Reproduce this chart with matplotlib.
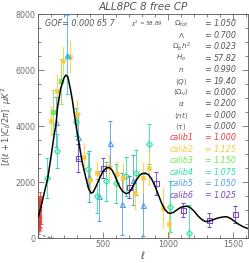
import matplotlib
matplotlib.use("Agg")
import matplotlib.pyplot as plt
from matplotlib.ticker import MultipleLocator

# ---- model curve ----
curve_l = [2, 25, 50, 75, 100, 125, 138, 150, 175, 200, 215, 230, 250, 265, 279, 292, 318, 340,
           369, 390, 408, 425, 450, 475, 500, 525, 548, 570, 590, 610, 630, 650, 677, 700, 725,
           754, 780, 800, 825, 850, 875, 900, 925, 950, 975, 1000, 1015, 1040, 1070, 1100, 1143,
           1170, 1200, 1230, 1260, 1285, 1310, 1340, 1380, 1420, 1451, 1480, 1510, 1540, 1570,
           1600, 1620]
curve_v = [760, 1150, 1650, 2140, 2900, 3710, 4030, 4650, 5350, 5720, 5820, 5750, 5300, 4900, 4430,
           4030, 3320, 2700, 2130, 1750, 1600, 1640, 1880, 2150, 2380, 2500, 2520, 2420, 2240,
           2010, 1810, 1670, 1580, 1620, 1800, 2050, 2230, 2300, 2320, 2260, 2100, 1850, 1550,
           1250, 1020, 900, 880, 910, 1010, 1100, 1140, 1090, 960, 790, 660, 590, 595, 640, 710,
           750, 760, 700, 600, 500, 420, 360, 330]

# dashed low-l component
dash_l = [2, 30, 60, 90, 120]
dash_v = [150, 100, 50, 20, 0]

# ---- data sets ----
calib1_l = [2, 3, 4, 5, 6, 7, 8, 9, 10, 11, 12, 13, 14, 15, 16, 18, 20]
calib1_v = [800, 1050, 650, 900, 700, 1000, 850, 750, 950, 1100, 700, 900, 1000, 800, 1200, 900, 1000]
calib1_e = [600, 450, 400, 350, 350, 350, 350, 350, 350, 350, 400, 400, 400, 450, 450, 500, 500]

calib2_l = [97, 144, 195, 249, 297, 351, 400, 451, 543, 605, 656, 748, 805, 856, 959, 1010]
calib2_v = [4180, 5260, 6330, 6480, 4430, 2900, 2070, 2310, 2520, 2270, 2150, 1600, 2140, 2510, 1060, 500]
calib2_e = [500, 550, 500, 550, 450, 450, 400, 400, 450, 450, 500, 550, 550, 600, 700, 700]

calib3_l = [113, 180]
calib3_v = [4500, 5600]
calib3_e = [800, 800]

calib4_l = [67, 144, 292, 382, 451, 523, 600, 677, 754, 856, 1015, 1164]
calib4_v = [2140, 3110, 4140, 2450, 1510, 2030, 1950, 2210, 2330, 3360, 1120, 170]
calib4_e = [700, 600, 500, 600, 600, 700, 700, 700, 800, 700, 900, 1000]

calib5_l = [138, 305, 390, 472, 556, 646, 728, 810]
calib5_v = [4140, 3620, 2190, 1510, 3380, 1210, 2070, 1180]
calib5_e = [900, 800, 900, 900, 800, 1100, 900, 1100]

peak_l = [220]
peak_v = [6550]
peak_e = [1400]

calib6_l = [305, 497, 702, 908, 1113, 1315, 1515]
calib6_v = [2845, 2490, 1830, 1950, 1000, 643, 846]
calib6_e = [500, 350, 400, 400, 250, 250, 300]

param_labels = [r'$\Omega_{tot}$', r'$\Lambda$', r'$\Omega_b h^2$', r'$H_o$', r'$n$',
                r'$\langle Q\rangle$', r'$\langle\Omega_\nu\rangle$', r'$\alpha$',
                r'$\langle nt\rangle$', r'$\langle\tau\rangle$']
param_values = ['1.050', '0.700', '0.023', '57.82', '0.990', '19.40', '0.000', '0.200', '0.000', '0.000']
calib_labels = ['calib1', 'calib2', 'calib3', 'calib4', 'calib5', 'calib6']
calib_values = ['1.000', '1.125', '1.150', '1.075', '1.050', '1.025']

RED = '#f03a3a'
YEL = '#ffc832'
GRN = '#78e650'
MINT = '#28e6a0'
BLUE = '#50a0f0'
CYAN = '#30c0e8'
PURP = '#7848c8'
calib_colors = [RED, YEL, GRN, MINT, BLUE, PURP]

fig = plt.figure(figsize=(2.49, 2.63), dpi=100)
ax = fig.add_axes([38/249, 25/263, 210/249, 224/263])

ebk = dict(linestyle='none', elinewidth=0.6, capsize=1.3, capthick=0.6)
ax.errorbar(calib1_l, calib1_v, yerr=calib1_e, color=RED, marker='+', ms=2, mew=0.5, **ebk)
ax.errorbar(calib3_l, calib3_v, yerr=calib3_e, color=GRN, marker='s', ms=2.2, **ebk)
ax.errorbar(calib5_l, calib5_v, yerr=calib5_e, color=BLUE, marker='^', ms=3.6, mfc='none', mew=0.8, **ebk)
ax.errorbar(calib4_l, calib4_v, yerr=calib4_e, color=MINT, marker='D', ms=3, mfc='none', mew=0.8, **ebk)
ax.errorbar(calib6_l, calib6_v, yerr=calib6_e, color=PURP, marker='s', ms=3.6, mfc='none', mew=0.8, **ebk)
ax.errorbar(calib2_l, calib2_v, yerr=calib2_e, color=YEL, marker='X', ms=3.6, mew=0.3, **ebk)
ax.errorbar(peak_l, peak_v, yerr=peak_e, color=CYAN, marker='^', ms=3.6, **ebk)

ax.plot(curve_l, curve_v, color='black', lw=1.1, zorder=5)
ax.plot(dash_l, dash_v, color='#404040', lw=0.6, ls=(0, (3, 3)), zorder=5)

ax.set_xlim(0, 1615)
ax.set_ylim(0, 8000)
ax.xaxis.set_major_locator(MultipleLocator(500))
ax.xaxis.set_minor_locator(MultipleLocator(100))
ax.yaxis.set_major_locator(MultipleLocator(2000))
ax.yaxis.set_minor_locator(MultipleLocator(500))
ax.set_xticks([500, 1000, 1500])
ax.tick_params(which='both', direction='in', top=True, right=True, colors='#555555',
               labelcolor='#707070', labelsize=5.8, width=0.5, pad=1.5)
ax.tick_params(which='major', length=4)
ax.tick_params(which='minor', length=2)
for s in ax.spines.values():
    s.set_color('#555555')
    s.set_linewidth(0.6)

ax.set_xlabel(r'$\ell$', fontsize=7, color='#555555', labelpad=0)
ax.set_ylabel(r'$[\ell(\ell+1)C_\ell/2\pi]\ \ \mu K^2$', fontsize=6, color='#555555', labelpad=1)
fig.text(143/249, 1 - 7/263, 'ALL8PC 8 free CP', ha='center', va='center', fontsize=7.5,
         style='italic', color='#555555')

def fy(py):
    return 1 - py / 263
def fx(px):
    return px / 249

fig.text(fx(45), fy(24), 'GOF= 0.000 65 7', fontsize=5.8, style='italic', color='#555555',
         ha='left', va='center')
fig.text(fx(131), fy(24), r'$\chi^2$ = 58.89', fontsize=4, style='italic', color='#555555',
         ha='left', va='center')

rows = param_labels + calib_labels
vals = param_values + calib_values
cols = ['#555555'] * len(param_labels) + calib_colors
for i, (lab, v, c) in enumerate(zip(rows, vals, cols)):
    py = 24 + 11.4 * i
    if i < len(param_labels):
        fig.text(fx(181), fy(py), lab, fontsize=5.2, color=c, ha='center', va='center')
    else:
        fig.text(fx(170), fy(py), lab, fontsize=5.8, color=c, ha='left', va='center', style='italic')
    fig.text(fx(208), fy(py), '=', fontsize=5.8, color=c, ha='center', va='center')
    fig.text(fx(214), fy(py), v, fontsize=5.8, color=c, ha='left', va='center', style='italic')

fig.savefig('out.png', dpi=100)
